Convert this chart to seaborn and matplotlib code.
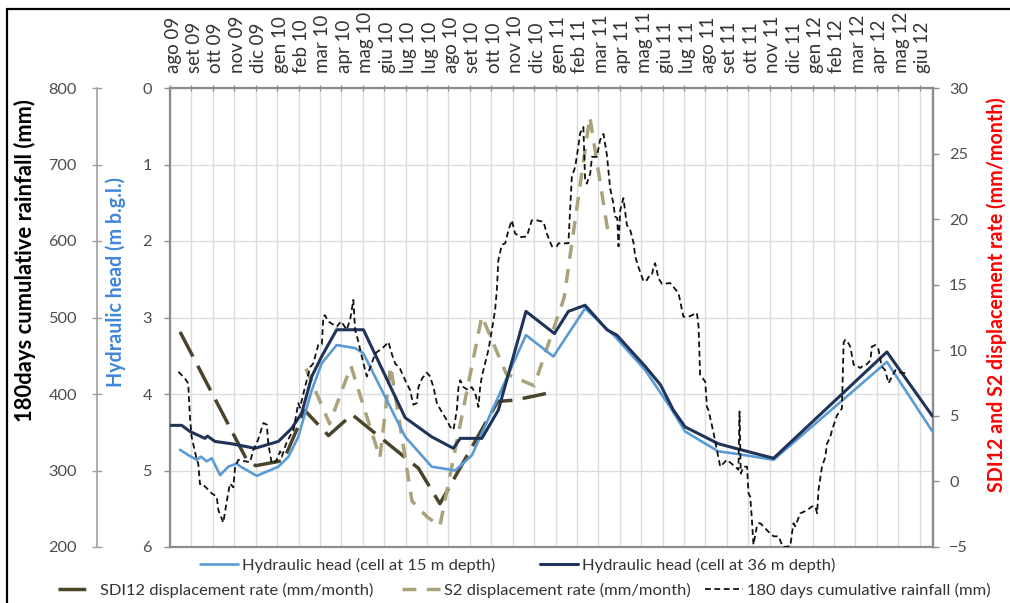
import matplotlib
matplotlib.use("Agg")
import matplotlib.pyplot as plt
import matplotlib.transforms as mtransforms
from matplotlib.lines import Line2D
from matplotlib.font_manager import FontProperties
import seaborn as sns
import pandas as pd

# ---- data -------------------------------------------------------------
# time axis: steps of 30 days starting 5 Aug 2009 (one tick per step)
month_labels = ["ago 09", "set 09", "ott 09", "nov 09", "dic 09",
                "gen 10", "feb 10", "mar 10", "apr 10", "mag 10", "giu 10",
                "lug 10", "lug 10", "ago 10", "set 10", "ott 10", "nov 10",
                "dic 10", "gen 11", "feb 11", "mar 11", "apr 11", "mag 11",
                "giu 11", "lug 11", "ago 11", "set 11", "ott 11", "nov 11",
                "dic 11", "gen 12", "feb 12", "mar 12", "apr 12", "mag 12",
                "giu 12"]

# hydraulic head, cell at 15 m depth (m below ground level)
t_head15 = [0.47, 0.86, 1.25, 1.45, 1.71, 1.95, 2.34, 2.72, 3.11, 3.3, 4.05,
            5.06, 5.53, 5.99, 6.62, 7.08, 7.78, 8.64, 9.03, 10.98, 12.22,
            13.31, 14.1, 16.62, 17.9, 19.38, 20.78, 22.19, 23.35, 24.05,
            25.6, 26.4, 28.18, 33.47, 35.6]
head15 = [4.73, 4.80, 4.86, 4.82, 4.88, 4.84, 5.06, 4.95, 4.91, 4.95, 5.07,
          4.95, 4.82, 4.56, 3.95, 3.60, 3.36, 3.40, 3.47, 4.56, 4.95,
          5.00, 4.80, 3.23, 3.51, 2.88, 3.25, 3.69, 4.17, 4.49,
          4.75, 4.78, 4.86, 3.58, 4.49]

# hydraulic head, cell at 36 m depth (m below ground level)
t_head36 = [0.0, 0.55, 0.93, 1.63, 1.75, 2.1, 2.87, 3.97, 5.06, 5.68, 6.15,
            6.62, 7.08, 7.78, 9.03, 10.98, 12.22, 13.23, 13.55, 14.56, 15.33,
            16.62, 17.95, 18.6, 19.38, 20.4, 20.86, 22.19, 22.9, 23.5, 24.05,
            25.6, 26.4, 28.18, 33.47, 35.6]
head36 = [4.41, 4.41, 4.49, 4.58, 4.55, 4.62, 4.65, 4.71, 4.62, 4.45, 4.25,
          3.77, 3.51, 3.16, 3.16, 4.31, 4.56, 4.71, 4.58, 4.58, 4.21,
          2.92, 3.21, 2.92, 2.84, 3.16, 3.23, 3.64, 3.88, 4.21, 4.43,
          4.65, 4.71, 4.84, 3.45, 4.29]

# SDI12 displacement rate (mm/month)
t_sdi12 = [0.47, 3.6, 4.0, 5.3, 6.3, 7.4, 8.5, 11.6, 12.6, 15.3, 16.1, 17.55]
sdi12 = [11.4, 1.6, 1.2, 1.6, 5.4, 3.5, 5.1, 1.0, -1.7, 6.1, 6.2, 6.7]

# S2 displacement rate (mm/month)
t_s2 = [6.35, 7.45, 8.45, 9.1, 9.8, 10.3, 11.3, 12.0, 12.6, 14.56, 15.7,
        17.0, 18.4, 19.6, 20.47]
s2 = [8.6, 4.4, 8.8, 5.4, 1.8, 8.8, -1.5, -2.7, -3.4, 12.6, 8.2,
      7.3, 14.0, 27.8, 18.8]

# 180 days cumulative rainfall (mm)
t_rain = [0.39, 0.47, 0.70, 0.85, 0.93, 1.01, 1.25, 1.32, 1.40, 1.48, 1.71,
          1.95, 2.18, 2.26, 2.49, 2.65, 2.80, 2.96, 3.04, 3.19, 3.50, 3.74,
          3.89, 4.11, 4.36, 4.52, 4.59, 4.75, 4.95, 5.14, 5.22, 5.42, 5.60,
          5.76, 5.99, 6.07, 6.31, 6.54, 6.69, 6.93, 7.09, 7.16, 7.24, 7.38,
          7.55, 7.79, 7.99, 8.25, 8.41, 8.56, 8.64, 8.78, 9.03, 9.19, 9.42,
          9.58, 9.81, 10.00, 10.20, 10.36, 10.51, 10.74, 10.98, 11.21, 11.36,
          11.52, 11.60, 11.76, 11.99, 12.14, 12.30, 12.46, 12.66, 12.92,
          13.08, 13.23, 13.31, 13.39, 13.47, 13.55, 13.70, 13.93, 14.09,
          14.25, 14.40, 14.48, 14.56, 14.71, 14.87, 15.03, 15.18, 15.26,
          15.33, 15.49, 15.65, 15.80, 15.96, 16.11, 16.35, 16.66, 16.89,
          17.13, 17.44, 17.59, 17.83, 18.06, 18.14, 18.37, 18.60, 18.68,
          18.76, 18.92, 19.07, 19.15, 19.30, 19.38, 19.46, 19.62, 19.70,
          19.93, 20.08, 20.24, 20.40, 20.55, 20.70, 20.78, 20.88, 20.94,
          21.02, 21.10, 21.17, 21.33, 21.49, 21.64, 21.72, 21.87, 22.11,
          22.27, 22.34, 22.50, 22.57, 22.65, 22.81, 22.97, 23.35, 23.74,
          23.97, 24.21, 24.60, 24.68, 24.75, 24.99, 25.07, 25.14, 25.38,
          25.53, 25.69, 26.00, 26.39, 26.54, 26.59, 26.65, 26.78, 26.94,
          27.01, 27.09, 27.17, 27.24, 27.40, 27.48, 27.56, 27.94, 28.02,
          28.18, 28.41, 28.57, 28.65, 28.96, 29.04, 29.11, 29.19, 29.43,
          29.74, 29.97, 30.13, 30.21, 30.28, 30.44, 30.60, 30.67, 30.83,
          30.91, 31.14, 31.37, 31.45, 31.53, 31.68, 31.76, 31.92, 32.00,
          32.23, 32.31, 32.54, 32.70, 32.77, 32.93, 33.08, 33.23, 33.39,
          33.55, 33.71, 33.86, 34.10, 34.41]
rain = [429, 427, 420, 414, 370, 344, 314, 309, 282, 283, 277,
        270, 266, 248, 232, 260, 283, 278, 305, 314, 312, 311,
        327, 340, 362, 360, 335, 309, 312, 325, 318, 335, 345,
        352, 388, 382, 410, 435, 440, 465, 465, 501, 503, 495,
        492, 488, 495, 484, 497, 523, 484, 470, 440, 423, 440,
        453, 458, 462, 468, 452, 440, 433, 418, 405, 386,
        388, 409, 420, 428, 423, 409, 388, 378, 366,
        357, 353, 365, 379, 409, 418, 409, 405, 409,
        401, 383, 409, 423, 440, 458, 484, 510, 536,
        575, 595, 597, 614, 627, 610, 605, 606, 627,
        627, 625, 610, 593, 593, 597, 597, 597, 640,
        684, 697, 725, 741, 749, 680, 675, 688, 710,
        710, 732, 740, 712, 669, 649, 632, 630, 593,
        640, 649, 656, 621, 614, 598, 580, 566, 547,
        549, 553, 555, 566, 571, 551, 544, 545, 532,
        501, 501, 506, 488, 425, 416, 383, 379, 349,
        327, 305, 314, 305, 301, 377, 296, 305, 305,
        270, 266, 235, 203, 227, 231, 231, 220, 218,
        214, 214, 203, 200, 201, 218, 231, 227, 244,
        248, 253, 253, 244, 275, 305, 318, 335, 344,
        353, 372, 381, 467, 471, 466, 462, 438, 438,
        434, 436, 439, 444, 462, 464, 458, 436, 431,
        414, 423, 431, 428, 427]

# ---- figure geometry (pixels) --------------------------------------------
W, H = 1010, 603
PL, PR, PT, PB = 170, 932.5, 88, 547
FONT = "Lato"

C_HEAD15 = "#5B9BD5"
C_HEAD36 = "#1F3458"
C_SDI12 = "#4A452A"
C_S2 = "#A9A27A"
C_RAIN = "#111111"
C_AXIS = "#8C8C8C"
C_GRID = "#DCDCDC"
C_TICK = "#4D4D4D"

sns.set_theme(style="white")
plt.rcParams["font.family"] = [FONT, "DejaVu Sans"]

fig = plt.figure(figsize=(W / 100, H / 100), dpi=100)
renderer = fig.canvas.get_renderer()


def fx(x):
    return x / W


def fy(y):
    return 1 - y / H


def fitted_size(text, target_px, weight="normal"):
    fp = FontProperties(family=FONT, size=10, weight=weight)
    w, _, _ = renderer.get_text_width_height_descent(text, fp, ismath=False)
    return 10 * target_px / w


tick_size = fitted_size("800", 28)
month_size = fitted_size("ago 09", 56)
legend_size = fitted_size("Hydraulic head (cell at 15 m depth)", 252)

# base axes: hydraulic head scale and the grid
ax = fig.add_axes([fx(PL), fy(PB), (PR - PL) / W, (PB - PT) / H])
ax.set_facecolor("white")
ax.set_xlim(0, 35.6)
ax.set_ylim(6, 0)
ax.set_xticks(range(len(month_labels)))
ax.set_xticklabels(month_labels, rotation=90)
ax.set_yticks(range(0, 7))
ax.grid(True, color=C_GRID, linewidth=1.0)
ax.set_axisbelow(True)
ax.xaxis.tick_top()
ax.tick_params(axis="x", which="both", top=True, bottom=False, direction="inout",
               length=5, width=1, color=C_AXIS, labelsize=month_size,
               labelcolor="#333333", pad=8)
ax.tick_params(axis="y", which="both", left=True, right=False, direction="out",
               length=4, width=1, color=C_AXIS, labelsize=tick_size,
               labelcolor=C_TICK, pad=9)
for side in ["left", "right", "top", "bottom"]:
    ax.spines[side].set_color(C_AXIS)
    ax.spines[side].set_linewidth(1.6)
shift = mtransforms.ScaledTranslation(3 / 100, 0, fig.dpi_scale_trans)
for lab in ax.get_xticklabels():
    lab.set_transform(lab.get_transform() + shift)

# displacement rate scale (right)
ax_disp = ax.twinx()
ax_disp.set_ylim(-5, 30)
ax_disp.set_yticks(range(-5, 31, 5))
ax_disp.grid(False)
ax_disp.tick_params(axis="y", which="both", right=True, left=False, direction="out",
                    length=4, width=1, color=C_AXIS, labelsize=tick_size,
                    labelcolor=C_TICK, pad=8)
for side in ["left", "top", "bottom"]:
    ax_disp.spines[side].set_visible(False)
ax_disp.spines["right"].set_color(C_AXIS)
ax_disp.spines["right"].set_linewidth(1.6)

sns.lineplot(x=t_sdi12, y=sdi12, ax=ax_disp, color=C_SDI12, linewidth=2.5,
             linestyle=(0, (8, 3)), estimator=None, sort=False, legend=False)
sns.lineplot(x=t_s2, y=s2, ax=ax_disp, color=C_S2, linewidth=2.5,
             linestyle=(0, (4, 3)), estimator=None, sort=False, legend=False)

# hydraulic head lines drawn above the displacement rates
ax_head = ax.twinx()
ax_head.set_ylim(6, 0)
ax_head.axis("off")
sns.lineplot(x=t_head15, y=head15, ax=ax_head, color=C_HEAD15, linewidth=1.9,
             estimator=None, sort=False, legend=False)
sns.lineplot(x=t_head36, y=head36, ax=ax_head, color=C_HEAD36, linewidth=2.2,
             estimator=None, sort=False, legend=False)

# cumulative rainfall scale (outer left)
ax_rain = ax.twinx()
ax_rain.set_ylim(200, 800)
ax_rain.set_yticks(range(200, 801, 100))
ax_rain.grid(False)
ax_rain.yaxis.set_ticks_position("left")
ax_rain.yaxis.set_label_position("left")
ax_rain.spines["left"].set_position(("axes", (97 - PL) / (PR - PL)))
ax_rain.spines["left"].set_visible(True)
ax_rain.spines["left"].set_color("#A0A0A0")
ax_rain.spines["left"].set_linewidth(1.2)
for side in ["right", "top", "bottom"]:
    ax_rain.spines[side].set_visible(False)
ax_rain.tick_params(axis="y", which="both", left=True, right=False, labelleft=True,
                    labelright=False, direction="inout", length=7, width=1,
                    color="#A0A0A0", labelsize=tick_size, labelcolor=C_TICK, pad=11)
sns.lineplot(x=t_rain, y=rain, ax=ax_rain, color=C_RAIN, linewidth=1.3,
             linestyle=(0, (3.2, 2.0)), estimator=None, sort=False, legend=False)

for a in (ax, ax_disp, ax_head, ax_rain):
    a.set_xlabel("")
    a.set_ylabel("")
ax.set_xlim(0, 35.6)

# axis titles
fig.text(fx(25), fy(261), "180days cumulative rainfall (mm)", rotation=90,
         ha="center", va="center", color="black", fontweight="bold",
         fontsize=fitted_size("180days cumulative rainfall (mm)", 323, "bold"))
fig.text(fx(116), fy(282), "Hydraulic head (m b.g.l.)", rotation=90,
         ha="center", va="center", color="#3F87D9", fontweight="bold",
         fontsize=fitted_size("Hydraulic head (m b.g.l.)", 210, "bold"))
fig.text(fx(997), fy(295), "SDI12 and S2 displacement rate (mm/month)",
         rotation=90, ha="center", va="center", color="#FF0000",
         fontweight="bold",
         fontsize=fitted_size("SDI12 and S2 displacement rate (mm/month)", 394,
                              "bold"))

# legend, one entry at a time
legend_px = legend_size * 100 / 72


def legend_entry(handle, label, x, y):
    leg = fig.legend([handle], [label], loc="center left",
                     bbox_to_anchor=(fx(x), fy(y)), frameon=False,
                     fontsize=legend_size, handlelength=38 / legend_px,
                     handletextpad=4 / legend_px, borderpad=0, borderaxespad=0)
    for txt in leg.get_texts():
        txt.set_color("#333333")


legend_entry(Line2D([], [], color=C_HEAD15, linewidth=1.9),
             "Hydraulic head (cell at 15 m depth)", 200, 565)
legend_entry(Line2D([], [], color=C_HEAD36, linewidth=2.2),
             "Hydraulic head (cell at 36 m depth)", 540, 565)
legend_entry(Line2D([], [], color=C_SDI12, linewidth=2.5, linestyle=(0, (8, 3))),
             "SDI12 displacement rate (mm/month)", 58, 590)
legend_entry(Line2D([], [], color=C_S2, linewidth=2.5, linestyle=(0, (4, 3))),
             "S2 displacement rate (mm/month)", 402, 590)
legend_entry(Line2D([], [], color=C_RAIN, linewidth=1.3, linestyle=(0, (3.2, 2.0))),
             "180 days cumulative rainfall (mm)", 705, 590)

# chart frame (top and left edges)
fig.add_artist(Line2D([fx(7), fx(7)], [fy(9), 0], color="black", linewidth=1.6))
fig.add_artist(Line2D([fx(7), 1], [fy(9), fy(9)], color="black", linewidth=1.6))

fig.savefig("out.png", dpi=100)
